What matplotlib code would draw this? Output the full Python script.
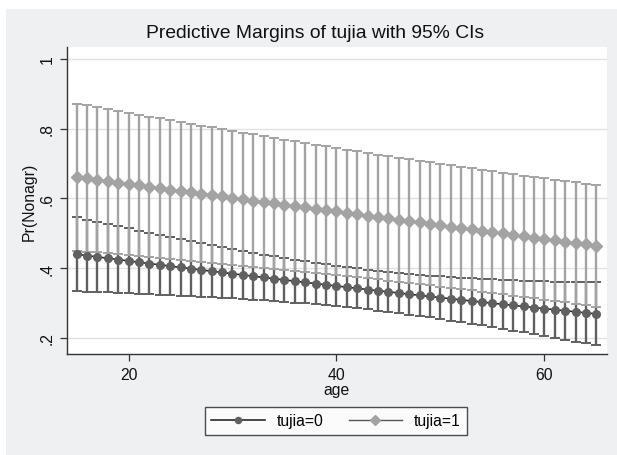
import matplotlib
matplotlib.use("Agg")
import matplotlib.pyplot as plt
from matplotlib.patches import Rectangle

plt.rcParams['font.family'] = ['Liberation Sans', 'DejaVu Sans']

ages = list(range(15, 66))

margin_t0 = [0.4400, 0.4362, 0.4323, 0.4285, 0.4247, 0.4209, 0.4171, 0.4134, 0.4097, 0.4060,
             0.4023, 0.3986, 0.3950, 0.3913, 0.3877, 0.3841, 0.3805, 0.3769, 0.3734, 0.3698,
             0.3663, 0.3628, 0.3593, 0.3559, 0.3524, 0.3490, 0.3456, 0.3422, 0.3388, 0.3355,
             0.3321, 0.3288, 0.3255, 0.3222, 0.3189, 0.3157, 0.3124, 0.3092, 0.3060, 0.3028,
             0.2997, 0.2965, 0.2934, 0.2903, 0.2872, 0.2841, 0.2811, 0.2780, 0.2750, 0.2720,
             0.2690]
lower_t0 = [0.3340, 0.3329, 0.3316, 0.3304, 0.3292, 0.3279, 0.3266, 0.3253, 0.3240, 0.3226,
            0.3212, 0.3197, 0.3183, 0.3167, 0.3151, 0.3134, 0.3116, 0.3097, 0.3078, 0.3057,
            0.3036, 0.3014, 0.2989, 0.2965, 0.2938, 0.2910, 0.2881, 0.2849, 0.2816, 0.2783,
            0.2746, 0.2709, 0.2670, 0.2630, 0.2588, 0.2545, 0.2500, 0.2455, 0.2408, 0.2360,
            0.2312, 0.2262, 0.2212, 0.2161, 0.2110, 0.2057, 0.2005, 0.1951, 0.1898, 0.1844,
            0.1790]
upper_t0 = [0.5460, 0.5395, 0.5330, 0.5266, 0.5202, 0.5139, 0.5076, 0.5015, 0.4954, 0.4894,
            0.4834, 0.4775, 0.4717, 0.4659, 0.4603, 0.4548, 0.4494, 0.4441, 0.4390, 0.4339,
            0.4290, 0.4242, 0.4197, 0.4153, 0.4110, 0.4070, 0.4031, 0.3995, 0.3960, 0.3927,
            0.3896, 0.3867, 0.3840, 0.3814, 0.3790, 0.3769, 0.3748, 0.3729, 0.3712, 0.3696,
            0.3682, 0.3668, 0.3656, 0.3645, 0.3634, 0.3625, 0.3617, 0.3609, 0.3602, 0.3596,
            0.3590]

margin_t1 = [0.6610, 0.6571, 0.6531, 0.6492, 0.6452, 0.6413, 0.6374, 0.6334, 0.6295, 0.6255,
             0.6216, 0.6177, 0.6137, 0.6098, 0.6058, 0.6019, 0.5980, 0.5940, 0.5901, 0.5861,
             0.5822, 0.5783, 0.5743, 0.5704, 0.5664, 0.5625, 0.5586, 0.5546, 0.5507, 0.5467,
             0.5428, 0.5389, 0.5349, 0.5310, 0.5270, 0.5231, 0.5192, 0.5152, 0.5113, 0.5073,
             0.5034, 0.4995, 0.4955, 0.4916, 0.4876, 0.4837, 0.4798, 0.4758, 0.4719, 0.4679,
             0.4640]
lower_t1 = [0.4500, 0.4476, 0.4450, 0.4426, 0.4400, 0.4374, 0.4349, 0.4322, 0.4296, 0.4269,
            0.4243, 0.4216, 0.4188, 0.4161, 0.4132, 0.4104, 0.4076, 0.4047, 0.4018, 0.3988,
            0.3959, 0.3929, 0.3898, 0.3868, 0.3836, 0.3805, 0.3774, 0.3741, 0.3709, 0.3676,
            0.3643, 0.3610, 0.3575, 0.3541, 0.3506, 0.3471, 0.3436, 0.3400, 0.3364, 0.3327,
            0.3291, 0.3254, 0.3216, 0.3178, 0.3139, 0.3100, 0.3061, 0.3021, 0.2981, 0.2940,
            0.2900]
upper_t1 = [0.8720, 0.8666, 0.8612, 0.8558, 0.8504, 0.8452, 0.8399, 0.8346, 0.8294, 0.8241,
            0.8189, 0.8138, 0.8086, 0.8035, 0.7984, 0.7934, 0.7884, 0.7833, 0.7784, 0.7734,
            0.7685, 0.7637, 0.7588, 0.7540, 0.7492, 0.7445, 0.7398, 0.7351, 0.7305, 0.7258,
            0.7213, 0.7168, 0.7123, 0.7079, 0.7034, 0.6991, 0.6948, 0.6904, 0.6862, 0.6819,
            0.6777, 0.6736, 0.6694, 0.6654, 0.6613, 0.6574, 0.6535, 0.6495, 0.6457, 0.6418,
            0.6380]

y_ticks = [0.2, 0.4, 0.6, 0.8, 1.0]
y_labels = [".2", ".4", ".6", ".8", "1"]
x_ticks = [20, 40, 60]
labels = ["tujia=0", "tujia=1"]
title = "Predictive Margins of tujia with 95% CIs"

BG = "#eef0f2"
DARK = "#606060"
LIGHT = "#a3a3a3"

fig = plt.figure(figsize=(6.17, 4.56), dpi=100, facecolor="white")
fig.patches.append(Rectangle((6 / 617, 0), 1, 446 / 456, transform=fig.transFigure,
                             facecolor=BG, edgecolor="none", zorder=-10))

ax = fig.add_axes([67 / 617, 1 - 355 / 456, (607 - 67) / 617, (355 - 48) / 456])
ax.set_facecolor("white")

# CIs
ax.errorbar(ages, margin_t0,
            yerr=[[m - l for m, l in zip(margin_t0, lower_t0)],
                  [u - m for m, u in zip(margin_t0, upper_t0)]],
            fmt="none", ecolor=DARK, elinewidth=1.7, capsize=3.5, capthick=1.4, zorder=2)
ax.errorbar(ages, margin_t1,
            yerr=[[m - l for m, l in zip(margin_t1, lower_t1)],
                  [u - m for m, u in zip(margin_t1, upper_t1)]],
            fmt="none", ecolor=LIGHT, elinewidth=1.7, capsize=3.5, capthick=1.4, zorder=3)

ax.plot(ages, margin_t0, color="#2a2a2a", lw=1.2, marker="o", markersize=5.5,
        markerfacecolor=DARK, markeredgecolor=DARK, zorder=4, label=labels[0])
ax.plot(ages, margin_t1, color="#555555", lw=1.0, marker="D", markersize=6.5,
        markerfacecolor=LIGHT, markeredgecolor=LIGHT, zorder=5, label=labels[1])

ax.set_xlim(14.08, 66.03)
ax.set_ylim(0.154, 1.034)
ax.set_yticks(y_ticks)
ax.set_yticklabels(y_labels, rotation=90, va="center", fontsize=11.3)
ax.set_xticks(x_ticks)
ax.set_xticklabels([str(v) for v in x_ticks], fontsize=11.3)
ax.grid(axis="y", color="#e2e2e2", lw=1.0)
ax.set_axisbelow(True)
for s in ["top", "right"]:
    ax.spines[s].set_visible(False)
for s in ["left", "bottom"]:
    ax.spines[s].set_color("#333333")
    ax.spines[s].set_linewidth(1.0)
ax.tick_params(axis="both", direction="out", length=5, width=0.9, color="#333333",
               labelcolor="#111111", pad=4)
ax.set_xlabel("age", fontsize=11.3, labelpad=0, color="#111111")
ax.set_ylabel("Pr(Nonagr)", fontsize=11.3, labelpad=2, color="#111111")

fig.text(315 / 617, 1 - 33 / 456, title, ha="center", va="center", fontsize=13.9,
         color="#111111")

h, l = ax.get_legend_handles_labels()
leg = fig.legend(h, l, loc="center", bbox_to_anchor=(336 / 617, 1 - 422 / 456), ncol=2,
                 fontsize=11.3, frameon=True, fancybox=False, edgecolor="#222222",
                 handlelength=3.4, columnspacing=1.6, handletextpad=0.75,
                 borderpad=0.4, markerscale=0.8)
leg.get_frame().set_linewidth(1.0)
leg.get_frame().set_facecolor("white")

fig.savefig("out.png", dpi=100, facecolor=fig.get_facecolor())
